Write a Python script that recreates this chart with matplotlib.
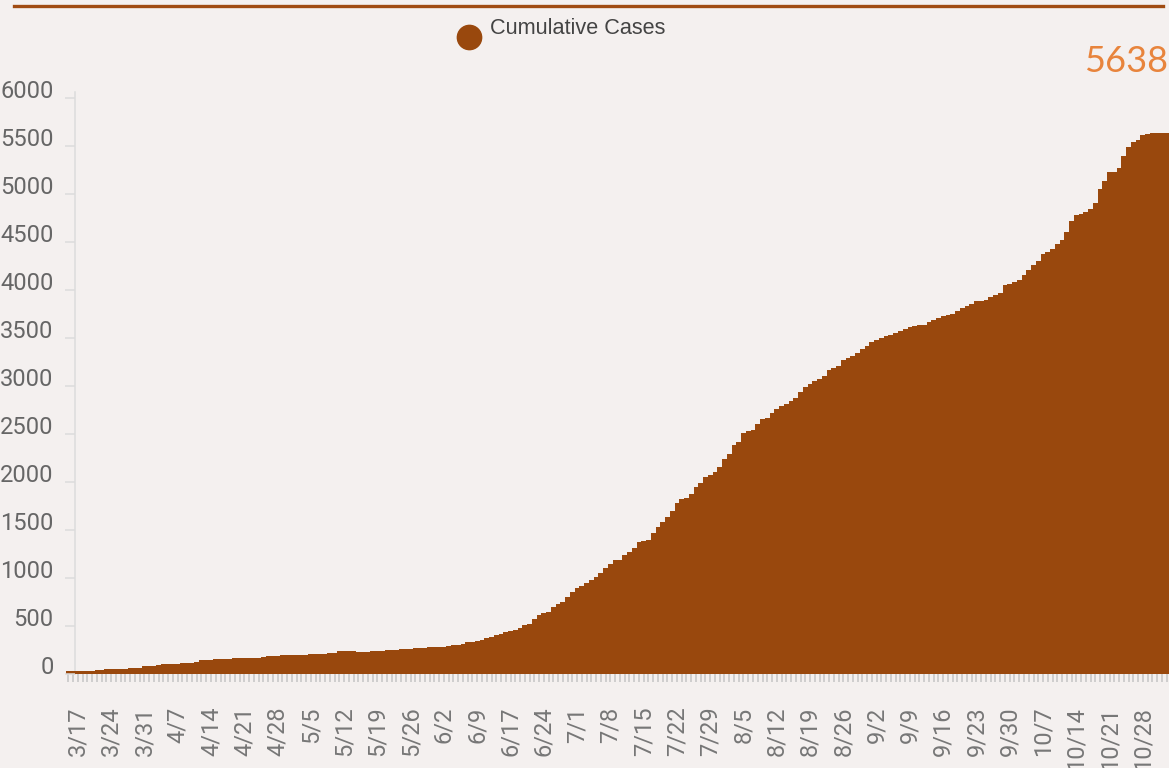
import matplotlib
matplotlib.use("Agg")
import matplotlib.pyplot as plt
from matplotlib.lines import Line2D
import numpy as np

plt.rcParams['font.family'] = ['Roboto', 'DejaVu Sans']

# cumulative cases, one value per reported day (first day is 3/15)
cases = [
    28, 28, 30, 30, 31, 31, 38, 40, 49, 50,
    55, 55, 56, 62, 62, 64, 80, 83, 84, 94,
    104, 104, 105, 106, 116, 118, 119, 128, 144, 146,
    147, 154, 156, 157, 161, 163, 163, 164, 168, 170,
    171, 182, 184, 185, 186, 195, 197, 198, 199, 200,
    201, 206, 208, 208, 209, 222, 222, 238, 240, 240,
    240, 229, 229, 230, 238, 240, 241, 248, 250, 251,
    258, 260, 261, 269, 271, 272, 279, 281, 282, 283,
    292, 300, 302, 316, 328, 330, 344, 354, 375, 389,
    406, 420, 434, 448, 462, 476, 510, 524, 570, 618,
    632, 646, 695, 729, 753, 802, 851, 893, 920, 945,
    979, 1011, 1049, 1104, 1146, 1184, 1191, 1240, 1268, 1309,
    1378, 1380, 1393, 1466, 1529, 1581, 1636, 1698, 1782, 1820,
    1834, 1876, 1952, 1990, 2056, 2073, 2105, 2160, 2237, 2292,
    2386, 2414, 2508, 2529, 2539, 2605, 2657, 2668, 2716, 2761,
    2795, 2811, 2843, 2873, 2932, 2990, 3018, 3046, 3070, 3105,
    3168, 3181, 3202, 3272, 3293, 3306, 3341, 3383, 3415, 3452,
    3477, 3494, 3519, 3532, 3553, 3571, 3592, 3612, 3623, 3630,
    3632, 3664, 3689, 3706, 3727, 3734, 3748, 3782, 3806, 3831,
    3855, 3885, 3887, 3895, 3921, 3946, 3967, 4050, 4064, 4078,
    4099, 4158, 4207, 4259, 4300, 4373, 4397, 4425, 4473, 4522,
    4602, 4717, 4784, 4788, 4814, 4845, 4904, 5050, 5130, 5225,
    5228, 5272, 5398, 5491, 5540, 5564, 5616, 5627, 5638, 5638,
    5638, 5638,
]

tick_labels = ['3/17', '3/24', '3/31', '4/7', '4/14', '4/21', '4/28', '5/5',
               '5/12', '5/19', '5/26', '6/2', '6/9', '6/17', '6/24', '7/1',
               '7/8', '7/15', '7/22', '7/29', '8/5', '8/12', '8/19', '8/26',
               '9/2', '9/9', '9/16', '9/23', '9/30', '10/7', '10/14', '10/21',
               '10/28']
first_label_idx = 2
label_step = 7

bg = '#f4f0ef'
bar_col = '#99480d'

fig = plt.figure(figsize=(11.69, 7.68), dpi=100, facecolor=bg)
ax = fig.add_axes([66 / 1169, 1 - 674 / 768, 1 - 66 / 1169, (674 - 92) / 768])
ax.set_facecolor(bg)

x = np.arange(len(cases))
ax.bar(x, cases, width=1.0, color=bar_col, linewidth=0, antialiased=False, zorder=1)

ax.set_xlim(-0.5, len(cases) - 0.5)
ax.set_ylim(0, 6060)

# y axis
ax.set_yticks(np.arange(0, 6001, 500))
ax.tick_params(axis='y', direction='out', length=7.5, width=1.1, color='#dcdcdc',
               labelsize=17, labelcolor='#666666', pad=8)

# x axis
ticks = [first_label_idx + k * label_step for k in range(len(tick_labels))]
ax.set_xticks(ticks)
ax.set_xticklabels(tick_labels, rotation=90)
ax.set_xticks(x, minor=True)
ax.tick_params(axis='x', which='both', direction='out', length=5.5, width=1.1,
               color='#c4c4c4')
ax.tick_params(axis='x', which='major', labelsize=17, labelcolor='#777777', pad=18)

for s in ['top', 'right', 'bottom']:
    ax.spines[s].set_visible(False)
ax.spines['left'].set_position(('data', 1.4))
ax.spines['left'].set_color('#dcdcdc')
ax.spines['left'].set_linewidth(1.1)
ax.spines['left'].set_zorder(0.5)

# header line
fig.add_artist(Line2D([14 / 1169, 1163 / 1169], [1 - 5.5 / 768, 1 - 5.5 / 768],
                      color='#a04b12', lw=2.4))

# legend
fig.add_artist(Line2D([469 / 1169], [1 - 37 / 768], marker='o', markersize=17.5,
                      color=bar_col, linestyle=''))
fig.text(490 / 1169, 1 - 29 / 768, 'Cumulative Cases', fontsize=15.6,
         family=['Liberation Sans', 'DejaVu Sans'], color='#444444',
         ha='left', va='center')

# latest total
fig.text(1168 / 1169, 1 - 61 / 768, f'{cases[-1]}', fontsize=26,
         family=['Lato', 'DejaVu Sans'], color='#e8843c', ha='right', va='center')

# y labels sit on top of their tick
fig.canvas.draw()
for lbl in ax.get_yticklabels():
    lbl.set_verticalalignment('baseline')

fig.savefig('out.png', dpi=100, facecolor=bg)
